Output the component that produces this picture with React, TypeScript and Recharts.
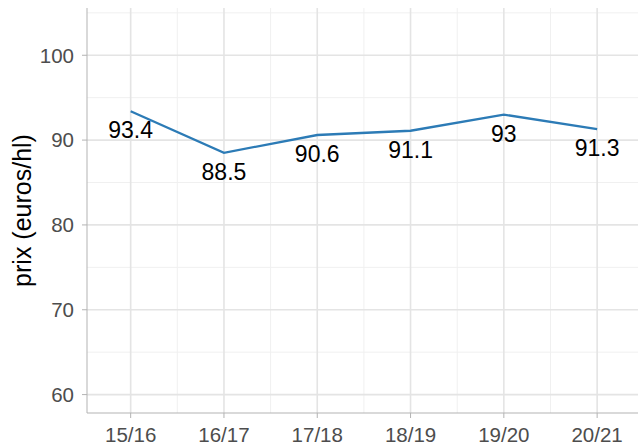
import { CartesianGrid, LabelList, Line, LineChart, XAxis, YAxis } from "recharts";

const seasons = ["15/16", "16/17", "17/18", "18/19", "19/20", "20/21"];
const prix = [93.4, 88.5, 90.6, 91.1, 93, 91.3];

const yMajor = [60, 70, 80, 90, 100];
const yMinor = [65, 75, 85, 95, 105];
const xMajor = [0, 1, 2, 3, 4, 5];
const xMinor = [0.5, 1.5, 2.5, 3.5, 4.5];

const data = seasons.map((season, i) => ({ i, season, prix: prix[i] }));

const FONT = '"Liberation Sans", Arial, sans-serif';
const X_DOMAIN: [number, number] = [-0.468, 5.438];
const Y_DOMAIN: [number, number] = [57.83, 105.57];

function ValueLabel(props: any) {
  const { x, y, value } = props;
  return (
    <text x={x} y={y + 27} textAnchor="middle" fontSize={23} fontFamily={FONT} fill="#000">
      {String(value)}
    </text>
  );
}

function YTitle(props: any) {
  const vb = props.viewBox;
  const cx = 22;
  const cy = vb.y + vb.height / 2;
  return (
    <text
      x={cx}
      y={cy}
      transform={`rotate(-90, ${cx}, ${cy})`}
      textAnchor="middle"
      dominantBaseline="central"
      fontSize={25}
      fontFamily={FONT}
      fill="#000"
    >
      prix (euros/hl)
    </text>
  );
}

export default function App() {
  return (
    <div style={{ position: "absolute", left: 0, top: 0, width: 638, height: 448, background: "#fff", overflow: "hidden" }}>
      <LineChart width={638} height={448} data={data} margin={{ top: 8, right: 0, bottom: 0, left: 0 }}>
        <CartesianGrid stroke="#f0f0f0" strokeWidth={1} horizontalValues={yMinor} verticalValues={xMinor} />
        <CartesianGrid stroke="#e4e4e4" strokeWidth={1.6} horizontalValues={yMajor} verticalValues={xMajor} />
        <XAxis
          dataKey="i"
          type="number"
          domain={X_DOMAIN}
          ticks={xMajor}
          allowDataOverflow
          tickFormatter={(v) => seasons[v as number]}
          height={35}
          tickSize={5}
          tickMargin={9}
          stroke="#b3b3b3"
          tick={{ fontSize: 20.5, fill: "#4d4d4d", fontFamily: FONT }}
        />
        <XAxis
          xAxisId="top"
          orientation="top"
          dataKey="i"
          type="number"
          domain={X_DOMAIN}
          allowDataOverflow
          height={0}
          tick={false}
          tickLine={false}
          stroke="#b3b3b3"
        />
        <YAxis
          type="number"
          domain={Y_DOMAIN}
          ticks={yMajor}
          allowDataOverflow
          width={87}
          tickSize={5}
          tickMargin={8}
          stroke="#b3b3b3"
          tick={{ fontSize: 20.5, fill: "#4d4d4d", fontFamily: FONT }}
          label={{ content: YTitle }}
        />
        <Line
          type="linear"
          dataKey="prix"
          stroke="#2c7bb6"
          strokeWidth={2.3}
          dot={false}
          isAnimationActive={false}
        >
          <LabelList dataKey="prix" content={ValueLabel} />
        </Line>
      </LineChart>
    </div>
  );
}
